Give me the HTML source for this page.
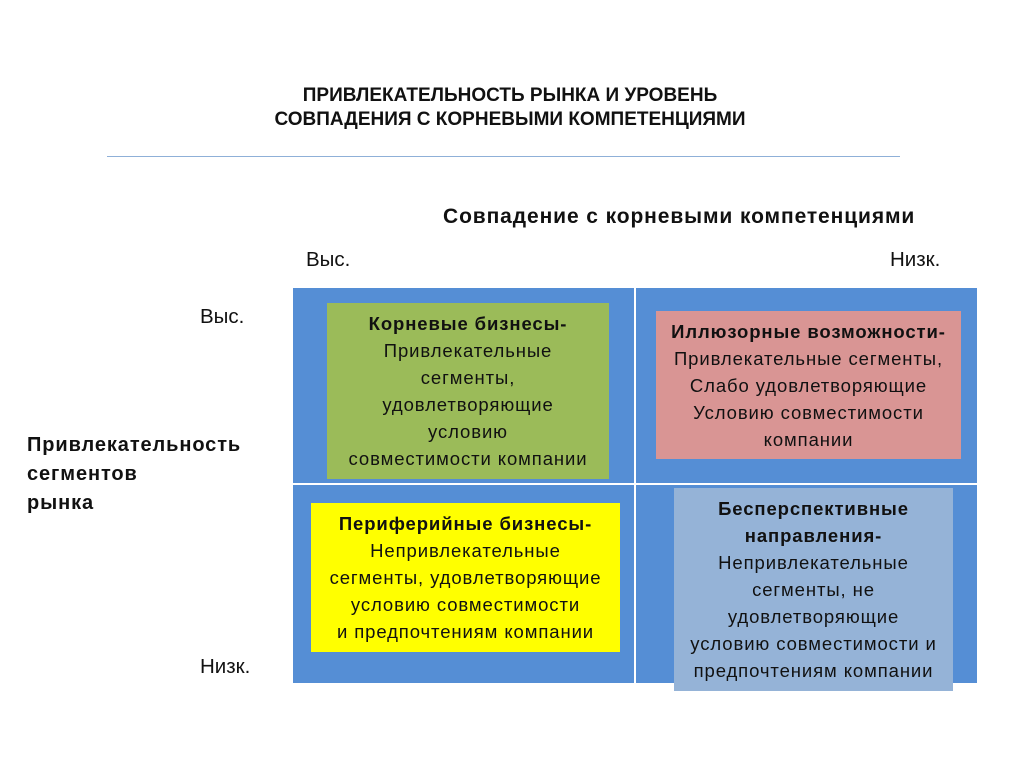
<!DOCTYPE html>
<html><head><meta charset="utf-8"><style>
body{margin:0;width:1024px;height:767px;background:#fff;position:relative;overflow:hidden;font-family:"Liberation Sans","DejaVu Sans",sans-serif;color:#111}
.a{position:absolute}
.t{text-align:center;font-weight:bold;font-size:19px;line-height:24px}
.box{position:absolute;text-align:center;font-size:18.5px;letter-spacing:0.9px;line-height:27px;display:flex;flex-direction:column;justify-content:center;align-items:center;white-space:nowrap}
b{font-weight:bold}
</style></head><body>
<div class="a t" style="left:100px;width:820px;top:84px">ПРИВЛЕКАТЕЛЬНОСТЬ РЫНКА И УРОВЕНЬ<br>СОВПАДЕНИЯ С КОРНЕВЫМИ КОМПЕТЕНЦИЯМИ</div>
<div class="a" style="left:107px;top:156px;width:793px;height:1px;background:#8fb0d8"></div>
<div class="a" style="left:443px;top:205px;font-size:21px;letter-spacing:0.9px;font-weight:bold">Совпадение с корневыми компетенциями</div>
<div class="a" style="left:306px;top:248px;font-size:20.5px">Выс.</div>
<div class="a" style="left:890px;top:248px;font-size:20.5px">Низк.</div>
<div class="a" style="left:200px;top:305px;font-size:20.5px">Выс.</div>
<div class="a" style="left:200px;top:655px;font-size:20.5px">Низк.</div>
<div class="a" style="left:27px;top:431px;font-size:20px;letter-spacing:0.9px;font-weight:bold;line-height:29px">Привлекательность<br>сегментов<br>рынка</div>
<div class="a" style="left:293px;top:288px;width:684px;height:395px;background:#558ed5"></div>
<div class="a" style="left:634px;top:288px;width:2px;height:395px;background:#fff"></div>
<div class="a" style="left:293px;top:483px;width:684px;height:2px;background:#fff"></div>
<div class="box" style="left:327px;top:303px;width:282px;height:176px;background:#9bbb59"><b>Корневые бизнесы-</b>Привлекательные<br>сегменты,<br>удовлетворяющие<br>условию<br>совместимости компании</div>
<div class="box" style="left:656px;top:311px;width:305px;height:148px;background:#d99594"><b>Иллюзорные возможности-</b>Привлекательные сегменты,<br>Слабо удовлетворяющие<br>Условию совместимости<br>компании</div>
<div class="box" style="left:311px;top:503px;width:309px;height:149px;background:#ffff00"><b>Периферийные бизнесы-</b>Непривлекательные<br>сегменты, удовлетворяющие<br>условию совместимости<br>и предпочтениям компании</div>
<div class="box" style="left:674px;top:488px;width:279px;height:203px;background:#95b3d7"><b>Бесперспективные<br>направления-</b>Непривлекательные<br>сегменты, не<br>удовлетворяющие<br>условию совместимости и<br>предпочтениям компании</div>
</body></html>
